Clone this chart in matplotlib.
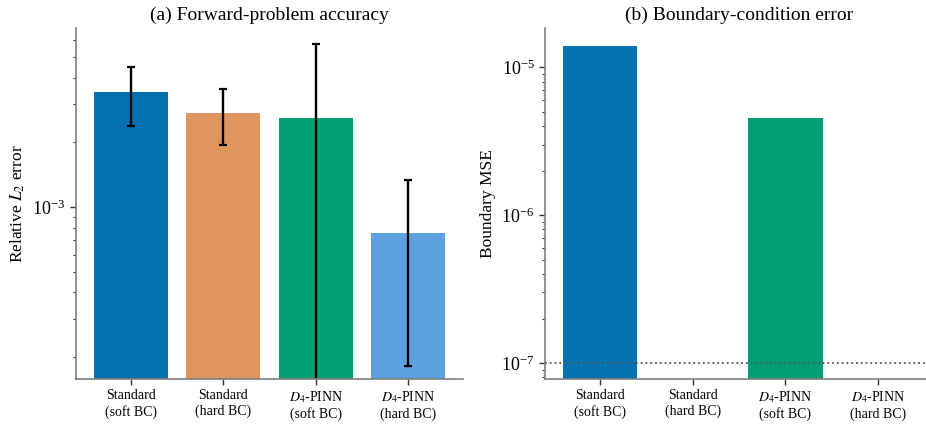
import matplotlib
matplotlib.use("Agg")
import matplotlib.pyplot as plt
import numpy as np

plt.rcParams['font.family'] = ['Liberation Serif', 'DejaVu Serif']
plt.rcParams['mathtext.fontset'] = 'stix'

# data
methods = ["Standard\n(soft BC)", "Standard\n(hard BC)",
           "$D_4$-PINN\n(soft BC)", "$D_4$-PINN\n(hard BC)"]
rel_l2_mean = [3.43e-3, 2.74e-3, 2.59e-3, 7.57e-4]
rel_l2_std = [1.06e-3, 0.80e-3, 3.14e-3, 5.75e-4]
bc_mse = [1.39e-5, 0.0, 4.52e-6, 0.0]
bc_threshold = 1e-7

colors = ["#0171B1", "#DF965E", "#029E73", "#5CA0E0"]
spine_color = "#7f7f7f"

fig = plt.figure(figsize=(9.26, 4.24), dpi=100)
ax1 = fig.add_axes([0.082, 0.106, 0.418, 0.828])
ax2 = fig.add_axes([0.5886, 0.106, 0.419, 0.828])

x = np.arange(len(methods))

# (a) forward-problem accuracy
ax1.bar(x, rel_l2_mean, width=0.8, color=colors, yerr=rel_l2_std,
        error_kw=dict(ecolor="black", elinewidth=1.7, capsize=3, capthick=1.6))
ax1.set_yscale("log")
ax1.set_ylim(1.58e-4, 6.8e-3)
ax1.set_ylabel("Relative $L_2$ error", fontsize=12.5)
ax1.set_title("(a) Forward-problem accuracy", fontsize=14)

# (b) boundary-condition error
ax2.bar(x, bc_mse, width=0.8, color=colors)
ax2.axhline(bc_threshold, color="#555555", linestyle=":", linewidth=1.3)
ax2.set_yscale("log")
ax2.set_ylim(7.8e-8, 1.84e-5)
ax2.set_ylabel("Boundary MSE", fontsize=12.5)
ax2.set_title("(b) Boundary-condition error", fontsize=14)

for ax in (ax1, ax2):
    ax.set_xticks(x)
    ax.set_xticklabels(methods, fontsize=10)
    ax.set_xlim(-0.59, 3.59)
    ax.spines["top"].set_visible(False)
    ax.spines["right"].set_visible(False)
    for s in ("left", "bottom"):
        ax.spines[s].set_color(spine_color)
        ax.spines[s].set_linewidth(1.2)
    ax.tick_params(axis="y", which="major", labelsize=13, length=4, width=1, color="#333333")
    ax.tick_params(axis="y", which="minor", length=2.5, width=0.8, color="#333333")
    ax.tick_params(axis="x", length=4, width=1, color="#333333")

fig.savefig("out.png", dpi=100)
